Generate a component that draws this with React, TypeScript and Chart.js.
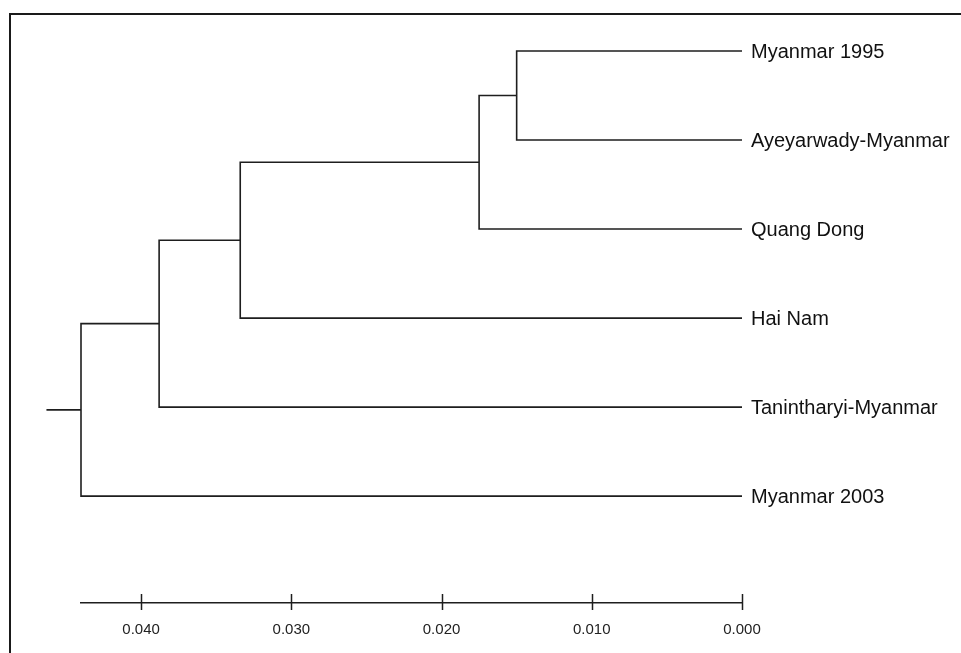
import React, { useEffect, useRef } from "react";
import { Chart, registerables } from "chart.js";

Chart.register(...registerables);

// ---- Data ----
const leafLabels = [
  "Myanmar 1995",
  "Ayeyarwady-Myanmar",
  "Quang Dong",
  "Hai Nam",
  "Tanintharyi-Myanmar",
  "Myanmar 2003",
];
// hclust-style merges: negative = leaf (1-based), positive = earlier merge (1-based)
const mergePairs: [number, number][] = [
  [-1, -2],
  [1, -3],
  [2, -4],
  [3, -5],
  [4, -6],
];
const mergeHeights = [0.015, 0.0175, 0.0334, 0.0388, 0.044];
const rootStubHeight = 0.0463;
const axisTickValues = [0.04, 0.03, 0.02, 0.01, 0.0];
const axisMin = 0;
const axisMax = 0.044;

const FONT = "'Liberation Sans', Arial, Helvetica, sans-serif";
const INK = "#1e1e1e";

type Pt = { x: number; y: number };

function buildPaths(): Pt[][] {
  const nodeY: number[] = [];
  const childY = (c: number) => (c < 0 ? -c - 1 : nodeY[c - 1]);
  const childH = (c: number) => (c < 0 ? 0 : mergeHeights[c - 1]);
  const paths: Pt[][] = [];
  mergePairs.forEach(([a, b], i) => {
    const h = mergeHeights[i];
    const ya = childY(a);
    const yb = childY(b);
    paths.push([
      { x: childH(a), y: ya },
      { x: h, y: ya },
      { x: h, y: yb },
      { x: childH(b), y: yb },
    ]);
    nodeY.push((ya + yb) / 2);
  });
  const rootY = nodeY[nodeY.length - 1];
  paths.push([
    { x: rootStubHeight, y: rootY },
    { x: mergeHeights[mergeHeights.length - 1], y: rootY },
  ]);
  return paths;
}

const leafLabelPlugin = {
  id: "leafLabels",
  afterDatasetsDraw(chart: any) {
    const { ctx, scales } = chart;
    const xs = scales.x;
    const ys = scales.y;
    ctx.save();
    // tick marks crossing the axis line
    ctx.strokeStyle = INK;
    ctx.lineWidth = 1.5;
    const bottom = chart.chartArea.bottom;
    xs.ticks.forEach((t: any) => {
      const px = Math.round(xs.getPixelForValue(t.value)) + 0.5;
      ctx.beginPath();
      ctx.moveTo(px, bottom - 9);
      ctx.lineTo(px, bottom + 7);
      ctx.stroke();
    });
    // leaf labels
    ctx.fillStyle = "#111";
    ctx.font = `20px ${FONT}`;
    ctx.textAlign = "left";
    ctx.textBaseline = "middle";
    const x0 = xs.getPixelForValue(0) + 9;
    leafLabels.forEach((lab, i) => {
      ctx.fillText(lab, x0, ys.getPixelForValue(i) + 1);
    });
    ctx.restore();
  },
};

export default function App() {
  const canvasRef = useRef<HTMLCanvasElement | null>(null);

  useEffect(() => {
    const canvas = canvasRef.current;
    if (!canvas) return;
    const paths = buildPaths();
    const chart = new Chart(canvas, {
      type: "scatter",
      data: {
        datasets: paths.map((p) => ({
          data: p,
          showLine: true,
          borderColor: INK,
          borderWidth: 1.6,
          pointRadius: 0,
          pointHoverRadius: 0,
          borderJoinStyle: "miter" as const,
          borderCapStyle: "butt" as const,
          clip: false as any,
          tension: 0,
        })),
      },
      options: {
        animation: false,
        responsive: false,
        devicePixelRatio: 1,
        events: [],
        layout: { padding: { left: 81, right: 219, top: 51, bottom: 0 } },
        plugins: {
          legend: { display: false },
          tooltip: { enabled: false },
          title: { display: false },
        },
        scales: {
          x: {
            type: "linear",
            reverse: true,
            min: axisMin,
            max: axisMax,
            grid: { display: false },
            border: { display: true, color: INK, width: 1.5 },
            afterBuildTicks: (scale: any) => {
              scale.ticks = axisTickValues.map((v) => ({ value: v }));
            },
            afterFit: (scale: any) => {
              scale.height = 50;
            },
            ticks: {
              padding: 10,
              color: "#222",
              font: { family: FONT, size: 15 },
              maxRotation: 0,
              autoSkip: false,
              callback: (v: any) => Number(v).toFixed(3),
            },
          },
          y: {
            type: "linear",
            reverse: true,
            min: 0,
            max: 6.2,
            display: false,
          },
        },
      },
      plugins: [leafLabelPlugin],
    });
    return () => chart.destroy();
  }, []);

  return (
    <div
      style={{
        position: "fixed",
        left: 0,
        top: 0,
        width: 961,
        height: 653,
        overflow: "hidden",
        background: "#fff",
      }}
    >
      <canvas
        ref={canvasRef}
        width={961}
        height={653}
        style={{ position: "absolute", left: 0, top: 0, width: 961, height: 653 }}
      />
      <div
        style={{
          position: "absolute",
          left: 9,
          top: 13,
          width: 1000,
          height: 700,
          borderLeft: "2px solid #1a1a1a",
          borderTop: "2px solid #1a1a1a",
          pointerEvents: "none",
        }}
      />
    </div>
  );
}
